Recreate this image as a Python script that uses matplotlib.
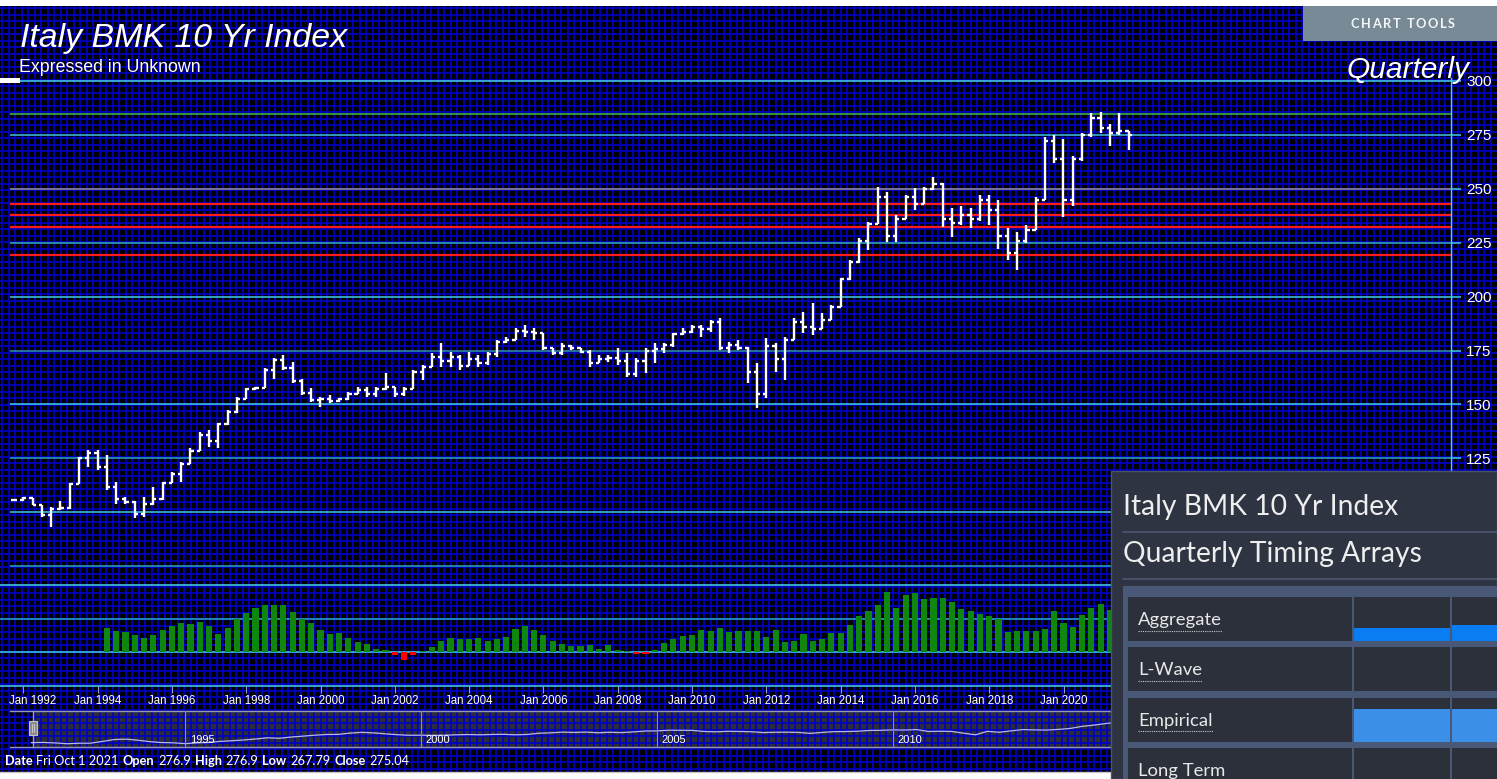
import matplotlib
matplotlib.use("Agg")
import matplotlib.pyplot as plt
import numpy as np
import pandas as pd
from matplotlib.collections import LineCollection
from matplotlib.patches import Rectangle
from matplotlib.transforms import ScaledTranslation

plt.rcParams["font.family"] = ["Liberation Sans", "DejaVu Sans"]

W, H = 1497, 779

# Quarterly bars, first one is 1991Q4
first_quarter = "1991Q4"
opens = [105.5,
         105.7, 106.5, 103.5, 98.5,
         101.5, 102.0, 113.0, 125.0,
         127.5, 121.0, 111.5, 106.0,
         104.5, 99.0, 104.0, 106.0,
         113.5, 117.5, 122.5, 128.5,
         136.0, 133.0, 141.0, 146.5,
         152.5, 157.0, 157.5, 166.0,
         170.5, 167.0, 161.0, 155.5,
         152.0, 152.5, 151.5, 152.5,
         155.0, 156.5, 155.0, 157.0,
         158.0, 155.0, 157.0, 165.0,
         167.5, 172.0, 170.0, 172.0,
         168.0, 171.0, 169.0, 173.5,
         179.0, 180.0, 184.0, 183.5,
         183.0, 176.0, 174.0, 177.0,
         176.0, 174.5, 169.0, 171.0,
         171.5, 170.0, 164.0, 170.0,
         175.0, 175.5, 177.5, 182.5,
         183.5, 186.0, 185.0, 188.0,
         176.0, 177.5, 176.0, 165.0,
         155.0, 177.0, 171.0, 180.0,
         188.0, 186.0, 185.0, 189.0,
         195.0, 208.0, 216.0, 226.0,
         233.5, 246.0, 228.0, 236.0,
         246.0, 243.0, 250.0, 252.0,
         236.0, 234.0, 238.0, 236.0,
         245.0, 240.0, 228.0, 220.0,
         226.0, 231.0, 245.0, 272.0,
         264.0, 245.0, 264.0, 275.0,
         283.0, 278.0, 276.0, 276.9]
highs = [106.0,
         107.2, 106.7, 103.5, 102.6,
         105.3, 113.5, 125.6, 128.9,
         128.9, 126.5, 114.1, 107.2,
         105.3, 107.2, 111.8, 114.1,
         118.8, 123.4, 129.6, 137.3,
         138.1, 141.4, 147.4, 153.4,
         157.6, 158.0, 166.9, 171.5,
         173.0, 169.7, 162.0, 157.6,
         153.4, 154.4, 153.0, 155.7,
         158.0, 158.0, 158.2, 164.4,
         158.2, 158.0, 166.0, 168.3,
         173.7, 178.3, 174.5, 172.9,
         174.5, 172.9, 174.5, 179.9,
         181.4, 185.3, 186.8, 185.3,
         183.0, 176.0, 178.3, 177.6,
         176.0, 175.2, 172.9, 172.9,
         176.0, 173.7, 171.4, 176.0,
         178.3, 178.3, 183.0, 185.3,
         186.8, 186.8, 189.1, 189.9,
         179.0, 180.0, 176.6, 169.0,
         181.0, 178.5, 181.3, 190.0,
         192.8, 197.0, 192.3, 196.0,
         208.6, 217.0, 227.2, 234.6,
         250.8, 248.5, 237.8, 247.1,
         250.4, 250.8, 255.5, 252.5,
         241.1, 242.0, 241.0, 247.0,
         247.0, 245.0, 232.0, 230.0,
         233.0, 246.0, 274.0, 275.0,
         273.0, 265.0, 276.0, 285.0,
         285.5, 280.0, 285.0, 276.9]
lows = [105.3,
        105.3, 103.3, 97.8, 93.3,
        101.0, 101.5, 113.0, 121.0,
        119.6, 110.3, 103.8, 103.8,
        97.3, 97.8, 103.3, 105.7,
        113.5, 114.1, 122.5, 128.5,
        130.2, 129.8, 140.4, 146.0,
        152.5, 156.7, 157.5, 162.0,
        166.0, 160.0, 154.4, 151.0,
        148.8, 150.7, 151.0, 152.0,
        155.0, 153.4, 153.6, 156.7,
        153.6, 154.0, 157.0, 161.3,
        167.5, 167.5, 167.5, 166.0,
        168.0, 167.5, 168.3, 172.1,
        178.3, 179.9, 181.4, 179.9,
        175.2, 172.9, 172.9, 175.2,
        173.7, 167.5, 169.0, 169.8,
        168.3, 162.9, 162.9, 164.4,
        169.1, 173.7, 176.8, 182.2,
        183.0, 181.4, 183.7, 175.2,
        173.8, 175.2, 160.0, 148.3,
        153.0, 165.0, 161.3, 180.0,
        183.0, 182.0, 185.0, 189.0,
        195.0, 207.7, 215.6, 221.6,
        233.5, 225.3, 225.3, 236.0,
        240.2, 243.0, 249.4, 232.3,
        227.6, 233.0, 232.0, 235.0,
        233.0, 222.0, 217.0, 212.5,
        225.0, 231.0, 245.0, 262.0,
        237.0, 242.0, 263.0, 274.0,
        276.0, 270.0, 275.0, 267.79]
closes = [105.7,
          106.5, 103.5, 98.5, 101.5,
          102.0, 113.0, 125.0, 127.5,
          121.0, 111.5, 106.0, 104.5,
          99.0, 104.0, 106.0, 113.5,
          117.5, 122.5, 128.5, 136.0,
          133.0, 141.0, 146.5, 152.5,
          157.0, 157.5, 166.0, 170.5,
          167.0, 161.0, 155.5, 152.0,
          152.5, 151.5, 152.5, 155.0,
          156.5, 155.0, 157.0, 158.0,
          155.0, 157.0, 165.0, 167.5,
          172.0, 170.0, 172.0, 168.0,
          171.0, 169.0, 173.5, 179.0,
          180.0, 184.0, 183.5, 183.0,
          176.0, 174.0, 177.0, 176.0,
          174.5, 169.0, 171.0, 171.5,
          170.0, 164.0, 170.0, 175.0,
          175.5, 177.5, 182.5, 183.5,
          186.0, 185.0, 188.0, 176.0,
          177.5, 176.0, 165.0, 155.0,
          177.0, 171.0, 180.0, 188.0,
          186.0, 185.0, 189.0, 195.0,
          208.0, 216.0, 226.0, 233.5,
          246.0, 228.0, 236.0, 246.0,
          243.0, 250.0, 252.0, 236.0,
          234.0, 238.0, 236.0, 245.0,
          240.0, 228.0, 220.0, 226.0,
          231.0, 245.0, 272.0, 264.0,
          245.0, 264.0, 275.0, 283.0,
          278.0, 276.0, 276.9, 275.04]

# horizontal reference levels
price_levels = [75, 100, 125, 150, 175, 200, 225, 250, 275, 300]
red_levels = [242.9, 237.8, 232.4, 219.4]
green_levels = [284.7]

# timing histogram below the price, first bar 1994Q2
ind_start = "1994Q2"
ind_values = [35.5, 32, 29.5,
              25.5, 21, 25.5, 33,
              39, 43, 41.5, 44.5,
              39, 27, 36, 49,
              58, 66, 70.5, 70.5,
              70.5, 59.5, 49.5, 43,
              33, 27, 28, 21,
              14.5, 12, 4.5, 3,
              -4.5, -12, -4.5, 2,
              7, 16.5, 21, 19.5,
              19.5, 21, 16, 19.5,
              22.5, 34, 39, 33,
              25.5, 17, 12, 9,
              9, 10.5, 5, 10.5,
              3, 1.5, -2.5, -3,
              3, 13, 19.5, 24,
              25.5, 33, 31.5, 36.5,
              29.5, 31, 31, 31,
              22.5, 33.5, 14.5, 17,
              27, 16, 19.5, 28.5,
              28.5, 40.5, 54, 61,
              70.5, 90.5, 66, 85.5,
              88, 79.5, 81, 81,
              74.5, 64.5, 62, 57,
              54, 50, 29.5, 31,
              31, 31, 34.5, 62,
              43, 37.5, 55.5, 66,
              72, 63]

nav_years = [1995, 2000, 2005, 2010, 2015, 2020]

timing_rows = ["Aggregate", "L-Wave", "Empirical", "Long Term"]
timing_fill = [[0.30, 0.36], [0.0, 0.0], [0.75, 0.75], [0.0, 0.0]]
timing_colors = ["#0a7df2", "#0a7df2", "#3b8fe6", "#3b8fe6"]


def to_years(start, n):
    q = pd.period_range(start, periods=n, freq="Q")
    return np.asarray(q.year + (q.quarter - 1) / 4.0, dtype=float)


bar_dates = to_years(first_quarter, len(closes))
ind_dates = to_years(ind_start, len(ind_values))

# pixel <-> data mappings
X_1992, PX_YEAR = 23.3, 37.15


def year_at(px):
    return 1992 + (px - X_1992) / PX_YEAR


def price_at(py):
    return 300 - (py - 81) / 2.156


def nav_year_at(px):
    return 1995 + (px - 185) / 47.2


fig = plt.figure(figsize=(W / 100, H / 100), dpi=100, facecolor="white")


def px_axes(x0, y0, x1, y1, z):
    a = fig.add_axes([x0 / W, 1 - y1 / H, (x1 - x0) / W, (y1 - y0) / H])
    a.set_zorder(z)
    a.patch.set_visible(False)
    return a


# background: black with a fine blue grid
bg = px_axes(0, 0, W, H, 0)
bg.set_xlim(0, W)
bg.set_ylim(H, 0)
bg.axis("off")
bg.add_patch(Rectangle((0, 6), W, 766, color="black", lw=0))
segs = [[(x, 6), (x, 772)] for x in np.arange(2, W, 6.5)]
segs += [[(0, y), (W, y)] for y in np.arange(8, 772, 6.5)]
bg.add_collection(LineCollection(segs, colors="#0000c8", linewidths=1.2))
bg.plot([0, W], [771.5, 771.5], color="#c8c8c8", lw=1)

# navigator shading
bg.add_patch(Rectangle((33, 711), W - 33, 36, facecolor="#8888b0", alpha=0.33, lw=0))
bg.add_patch(Rectangle((10, 711), 23, 36, facecolor="#000030", alpha=0.35, lw=0))
bg.plot([10, W], [711, 711], color="#9a9aaa", lw=1)
bg.plot([10, W], [747, 747], color="#9a9aaa", lw=1)
bg.plot([33, 33], [711, 747], color="#a0a0b0", lw=1)

# price panel
ax = px_axes(10, 70, 1451, 578, 2)
ax.set_xlim(year_at(10), year_at(1451))
ax.set_ylim(price_at(578), price_at(70))
for s in ax.spines.values():
    s.set_visible(False)
ax.spines["right"].set_visible(True)
ax.spines["right"].set_color("#45d4ea")
ax.spines["right"].set_linewidth(1.0)
ax.spines["right"].set_bounds(price_at(578), price_at(78))

level_colors = {300: "#49d6ec", 275: "#3fc4df", 250: "#9b93a6", 225: "#2fb2b8",
                200: "#3fcfe3", 175: "#2e93b8", 150: "#3fd0e6", 125: "#2aa9b4",
                100: "#3fcfe3", 75: "#2aa9b4"}
for lv in price_levels:
    ax.hlines(lv, year_at(10), year_at(1451), colors=level_colors[lv], lw=1.1, zorder=1)
    ax.hlines(lv, year_at(1451), year_at(1461), colors="#3fcfe3", lw=1.1,
              clip_on=False, zorder=1)
for lv in red_levels:
    ax.hlines(lv, year_at(10), year_at(1451), colors="#ff1a1a", lw=1.6, zorder=2)
for lv in green_levels:
    ax.hlines(lv, year_at(10), year_at(1451), colors="#3fbf3f", lw=1.1, zorder=2)

ax.yaxis.tick_right()
ax.set_yticks(price_levels)
ax.set_yticklabels([str(v) for v in price_levels])
ax.tick_params(axis="y", length=0, pad=11, labelsize=11, labelcolor="white")
ax.set_xticks([])

tick = 0.085
ax.vlines(bar_dates, lows, highs, colors="white", lw=1.7, zorder=4)
ax.hlines(opens, bar_dates - tick, bar_dates, colors="white", lw=1.7, zorder=4)
ax.hlines(closes, bar_dates, bar_dates + tick, colors="white", lw=1.7, zorder=4)

# histogram panel
ia = px_axes(0, 578, 1451, 686, 2)
ia.set_xlim(year_at(0), year_at(1451))
ia.set_ylim(-51, 111)
for s in ia.spines.values():
    s.set_visible(False)
ia.spines["bottom"].set_visible(True)
ia.spines["bottom"].set_color("#45d8ee")
ia.spines["bottom"].set_linewidth(1.1)
for lv, c in [(0, "#3fcfe3"), (50, "#2aa9c0"), (100, "#45d8ee")]:
    ia.axhline(lv, color=c, lw=1.1, zorder=1)
bar_cols = ["#0f870f" if v >= 0 else "#ff0000" for v in ind_values]
ia.bar(ind_dates, ind_values, width=0.165, color=bar_cols, zorder=2)
xt = np.arange(1992, 2031, 2)
ia.set_xticks(xt)
ia.set_xticklabels([f"Jan {y}" for y in xt])
ia.tick_params(axis="x", length=5, width=0.8, color="#9a9ab8", labelcolor="white",
               labelsize=8.3, pad=1.5)
ia.set_yticks([])
# keep the first date label inside the figure
first_lab = ia.get_xticklabels()[0]
first_lab.set_transform(first_lab.get_transform()
                        + ScaledTranslation(0.09, 0, fig.dpi_scale_trans))

# navigator
nav = px_axes(10, 711, 1497, 747, 2)
nav.set_xlim(nav_year_at(10), nav_year_at(1497))
nav.set_ylim(77.8, 305.6)
nav.axis("off")
nav.plot(bar_dates, closes, color="#b8b8e8", lw=0.9)
for y in nav_years:
    nav.axvline(y, color="#8c8cae", lw=0.8)
    nav.text(y + 0.1, 0.2, str(y), transform=nav.get_xaxis_transform(),
             color="white", fontsize=8, va="center")

# overlay: titles, buttons, side panel
ov = px_axes(0, 0, W, H, 10)
ov.set_xlim(0, W)
ov.set_ylim(H, 0)
ov.axis("off")
renderer = fig.canvas.get_renderer()

ov.add_patch(Rectangle((0, 78), 20, 5, color="white", lw=0))
ov.text(20, 46.7, "Italy BMK 10 Yr Index", fontsize=24.4, style="italic",
        color="white", va="baseline")
ov.text(19, 72.3, "Expressed in Unknown", fontsize=12.8, color="white", va="baseline")
ov.text(1470, 78, "Quarterly", fontsize=21.5, style="italic", color="white",
        ha="right", va="baseline")

# navigator handle
ov.add_patch(Rectangle((29, 721), 8, 14, facecolor="#8a8a8a", edgecolor="#c4c4c4", lw=0.8))
ov.plot([32, 32], [724, 732], color="#d0d0d0", lw=0.6)
ov.plot([34, 34], [724, 732], color="#d0d0d0", lw=0.6)

# chart tools button, letter-spaced label
ov.add_patch(Rectangle((1303, 6), W - 1303, 35, color="#778a96", lw=0))
label = "CHART TOOLS"
spacing = 1.6
widths = []
for ch in label:
    t = ov.text(0, 0, ch if ch != " " else "i", family="Lato", fontweight="bold",
                fontsize=9.2)
    widths.append(t.get_window_extent(renderer=renderer).width)
    t.remove()
total = sum(widths) + spacing * (len(label) - 1)
x = 1403 - total / 2
for ch, w in zip(label, widths):
    ov.text(x, 28, ch, family="Lato", fontweight="bold", fontsize=9.2,
            color="#f2f5f7", va="baseline")
    x += w + spacing

# status line built from the last bar
last_day = pd.Period(first_quarter, freq="Q") + len(closes) - 1
last_day = last_day.start_time
pieces = [("Date", "bold"), (last_day.strftime("%a %b %-d %Y"), "normal"),
          ("Open", "bold"), (f"{opens[-1]:g}", "normal"),
          ("High", "bold"), (f"{highs[-1]:g}", "normal"),
          ("Low", "bold"), (f"{lows[-1]:g}", "normal"),
          ("Close", "bold"), (f"{closes[-1]:g}", "normal")]
x = 5
for txt, wt in pieces:
    t = ov.text(x, 765, txt, family="Lato", fontweight=wt, fontsize=9.2,
                color="white", va="baseline")
    x += t.get_window_extent(renderer=renderer).width + 3.8

# timing array panel
ov.add_patch(Rectangle((1111, 471), W - 1111, H - 471, facecolor="#2e3441",
                       edgecolor="#4b5569", lw=1))
ov.text(1123, 515, "Italy BMK 10 Yr Index", family="Lato", fontsize=20.3,
        color="#eeeeee", va="baseline")
ov.plot([1123, W], [531.5, 531.5], color="#48536a", lw=1.3)
ov.text(1123, 561.7, "Quarterly Timing Arrays", family="Lato", fontsize=20.3,
        color="#eeeeee", va="baseline")
ov.plot([1123, W], [579, 579], color="#48536a", lw=1.3)
ov.add_patch(Rectangle((1123, 586), W - 1123, H - 586, color="#4a5877", lw=0))

row_tops = [597, 647, 697.5, 748]
row_h = 44
cols = [(1128, 1352), (1354, 1449.5), (1451.5, W + 5)]
for r, name in enumerate(timing_rows):
    top = row_tops[r]
    for c0, c1 in cols:
        ov.add_patch(Rectangle((c0, top), c1 - c0, row_h, color="#2b303b", lw=0))
    for k, frac in enumerate(timing_fill[r]):
        if frac > 0:
            c0, c1 = cols[k + 1]
            ov.add_patch(Rectangle((c0, top + row_h * (1 - frac)), c1 - c0, row_h * frac,
                                   color=timing_colors[r], lw=0))
    t = ov.text(1138, top + 28.3, name, family="Lato", fontsize=13.3,
                color="#e8e8e8", va="baseline")
    w = t.get_window_extent(renderer=renderer).width
    ov.plot([1138, 1138 + w], [top + 33.5, top + 33.5], color="#c8c8c8", lw=0.8,
            ls=(0, (1, 1)))

fig.savefig("out.png", dpi=100, facecolor="white")
